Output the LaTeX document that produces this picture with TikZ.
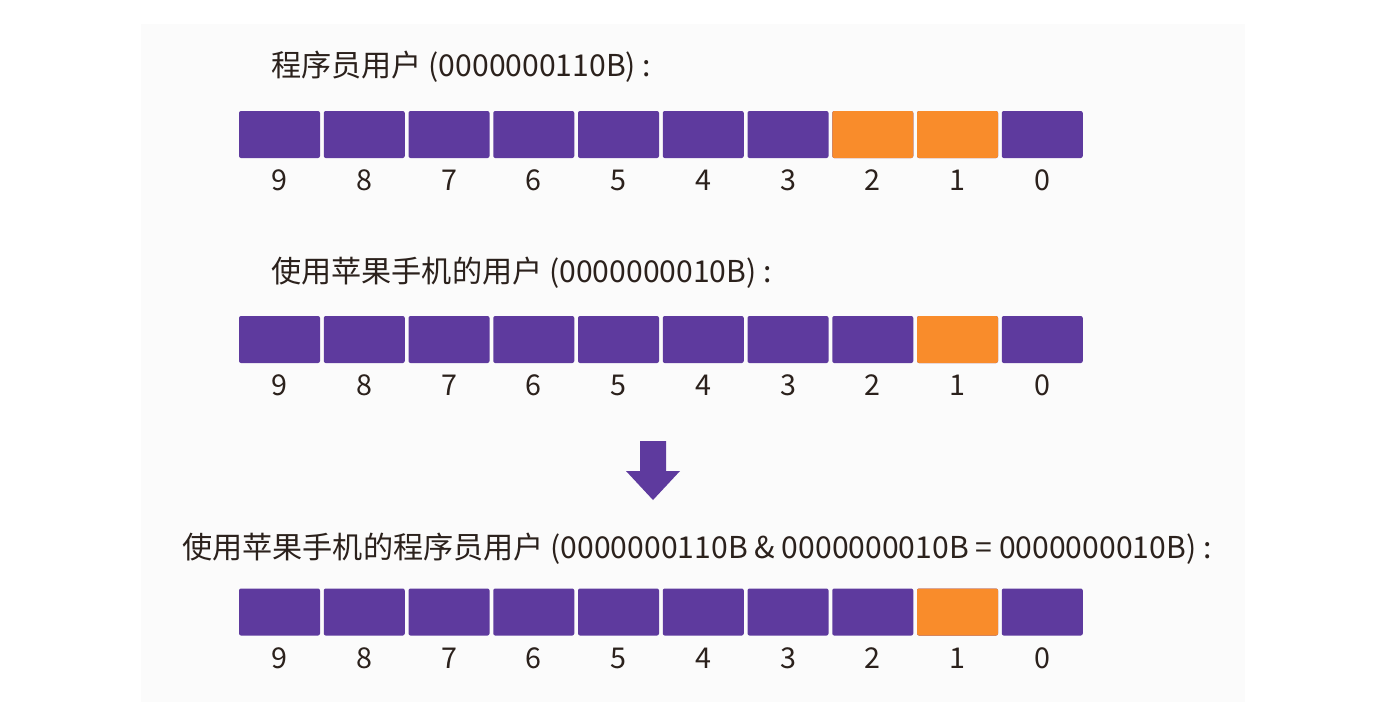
\documentclass[tikz,border=0pt]{standalone}
\usepackage{fontspec}
\setmainfont{Noto Sans CJK SC}
\definecolor{bitpurple}{HTML}{5E3A9E}
\definecolor{bitorange}{HTML}{F98C2B}
\definecolor{ink}{HTML}{2B211C}
\definecolor{paper}{HTML}{FBFBFB}
\begin{document}
\begin{tikzpicture}[x=0.75pt,y=-0.75pt,
  bit/.style={minimum width=81*0.75pt,minimum height=47*0.75pt,inner sep=0pt,rounded corners=1.5pt,fill=bitpurple},
  on/.style={fill=bitorange},
  idx/.style={text=ink,font=\fontsize{21.5}{24}\selectfont,inner sep=0pt},
  title/.style={text=ink,font=\fontsize{22.6}{26}\selectfont,inner sep=0pt,anchor=west}]
\useasboundingbox (0,0) rectangle (1374,708);
\fill[white] (0,0) rectangle (1374,708);
\fill[paper] (141,24) rectangle (1245,702);
% titles
\node[title] (t1) at (271,67) {程序员用户 (0000000110B) :};
\node[title] (t2) at (271,273) {使用苹果手机的用户 (0000000010B) :};
\node[title] (t3) at (182,549) {使用苹果手机的程序员用户 (0000000110B \& 0000000010B = 0000000010B) :};
% rows
\foreach \r/\y/\ones in {1/134.5/{2,1},2/339.5/{1},3/612/{1}}{
  \foreach \b in {9,...,0}{
    \pgfmathsetmacro{\xx}{279.5+(9-\b)*84.75}
    \node[bit] (r\r b\b) at (\xx,\y) {};
    \node[idx] (r\r d\b) at (\xx,\y+46) {\b};
  }
  \foreach \o in \ones { \node[bit,on] at (r\r b\o) {}; }
}
% arrow
\fill[bitpurple] (640,441) -- (666,441) -- (666,471) -- (680,471) -- (653,500) -- (626,471) -- (640,471) -- cycle;
\end{tikzpicture}
\end{document}
